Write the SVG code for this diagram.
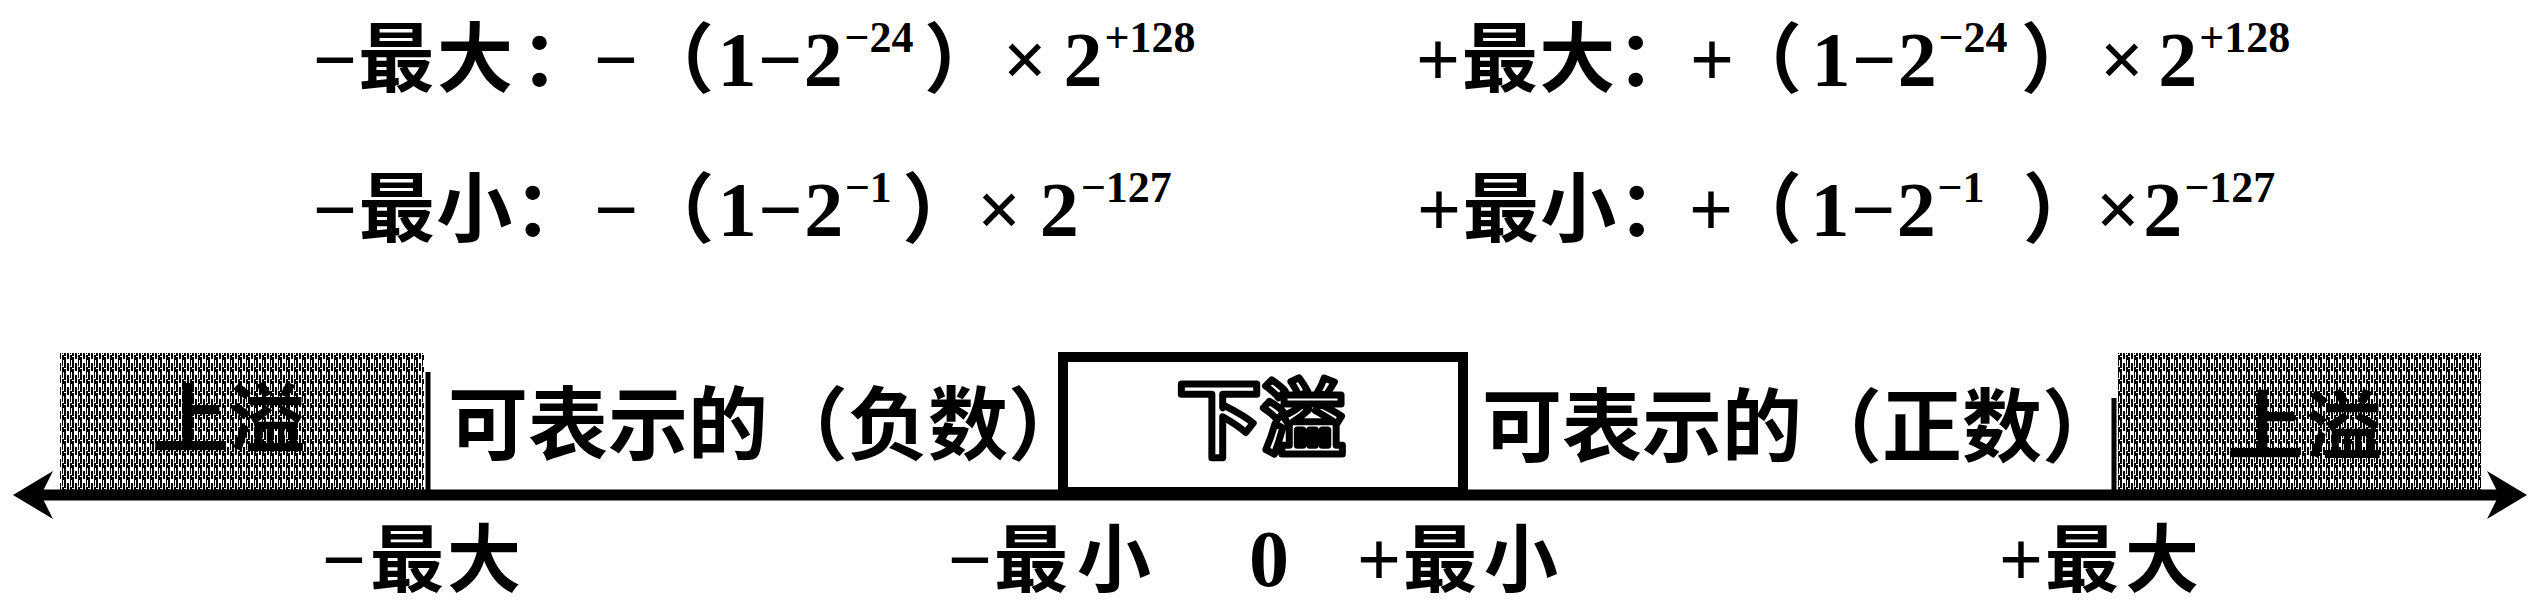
<svg xmlns="http://www.w3.org/2000/svg" width="2538" height="612" viewBox="0 0 2538 612">
<style>
.cjk{font-family:"Noto Sans CJK SC","Noto Sans CJK TC",sans-serif;font-weight:700;fill:#000}
.lat{font-family:"Liberation Serif","Times New Roman",serif;font-weight:700;fill:#000}
.pn{font-feature-settings:"halt" 1}
.f76{font-size:76px}
.f74{font-size:74px}
.f80{font-size:80px}
.l78{font-size:78px}
.sup{font-size:44px}
.mid{text-anchor:middle}
.hatchbox{fill:url(#hatch)}
.tick{stroke:#000;stroke-width:5;fill:none}
.axis{stroke:#000;stroke-width:11;fill:none;marker-start:url(#arr);marker-end:url(#arr)}
.hollow{fill:#fff;stroke:#000;stroke-width:7;stroke-linejoin:round}
</style>
<defs>
<pattern id="hatch" width="8" height="12" patternUnits="userSpaceOnUse">
<rect width="8" height="12" fill="#fff"/>
<rect x="0" y="0" width="2" height="8" fill="#000"/>
<rect x="3" y="3" width="2" height="8" fill="#000"/>
<rect x="6" y="0" width="1" height="6" fill="#000"/>
<rect x="6" y="7" width="2" height="5" fill="#000"/>
<rect x="0" y="9" width="2" height="3" fill="#000"/>
</pattern>
<marker id="arr" markerUnits="userSpaceOnUse" viewBox="0 0 40 48" markerWidth="40" markerHeight="48" refX="12" refY="24" orient="auto-start-reverse">
<path d="M0,0 L40,24 L0,48 L12,24 Z" fill="#000"/>
</marker>
</defs>
<rect width="2538" height="612" fill="#fff"/>

<g id="formulas">
<g id="neg-max">
<text x="312.8" y="86"><tspan class="lat l78">−</tspan><tspan class="cjk f76" dx="1">最</tspan><tspan class="cjk f76" dx="2.7">大</tspan><tspan class="cjk f76 pn" dx="7.5">：</tspan><tspan class="lat l78" dx="35.3">−</tspan><tspan class="cjk f76 pn" dx="37.7">（</tspan><tspan class="lat l78" dx="3.5">1</tspan><tspan class="lat l78" dx="1.5">−</tspan><tspan class="lat l78" dx="1.5">2</tspan><tspan class="lat sup" dx="1.5" dy="-34">−24</tspan><tspan class="cjk f76 pn" dx="10.5" dy="34">）</tspan><tspan class="lat l78" dx="40.7">×</tspan><tspan class="lat l78" dx="16.3">2</tspan><tspan class="lat sup" dx="2" dy="-34">+128</tspan></text>
</g>
<g id="neg-min">
<text x="312.8" y="236"><tspan class="lat l78">−</tspan><tspan class="cjk f76" dx="1.5">最</tspan><tspan class="cjk f76" dx="1.5">小</tspan><tspan class="cjk f76 pn" dx="1.5">：</tspan><tspan class="lat l78" dx="42.3">−</tspan><tspan class="cjk f76 pn" dx="37.7">（</tspan><tspan class="lat l78" dx="3.5">1</tspan><tspan class="lat l78" dx="1.5">−</tspan><tspan class="lat l78" dx="1.5">2</tspan><tspan class="lat sup" dx="1.5" dy="-34">−1</tspan><tspan class="cjk f76 pn" dx="10.5" dy="34">）</tspan><tspan class="lat l78" dx="36.7">×</tspan><tspan class="lat l78" dx="18.3">2</tspan><tspan class="lat sup" dx="2" dy="-34">−127</tspan></text>
</g>
<g id="pos-max">
<text x="1415.8" y="86"><tspan class="lat l78">+</tspan><tspan class="cjk f76" dx="1.5">最</tspan><tspan class="cjk f76" dx="1.5">大</tspan><tspan class="cjk f76 pn" dx="1.5">：</tspan><tspan class="lat l78" dx="35">+</tspan><tspan class="cjk f76 pn" dx="29.7">（</tspan><tspan class="lat l78" dx="9.5">1</tspan><tspan class="lat l78" dx="1.5">−</tspan><tspan class="lat l78" dx="1.5">2</tspan><tspan class="lat sup" dx="1.5" dy="-34">−24</tspan><tspan class="cjk f76 pn" dx="13.4" dy="34">）</tspan><tspan class="lat l78" dx="40.8">×</tspan><tspan class="lat l78" dx="14.2">2</tspan><tspan class="lat sup" dx="2" dy="-34">+128</tspan></text>
</g>
<g id="pos-min">
<text x="1416.8" y="236"><tspan class="lat l78">+</tspan><tspan class="cjk f76" dx="1.5">最</tspan><tspan class="cjk f76" dx="1.5">小</tspan><tspan class="cjk f76 pn" dx="1.5">：</tspan><tspan class="lat l78" dx="33">+</tspan><tspan class="cjk f76 pn" dx="30.7">（</tspan><tspan class="lat l78" dx="8.5">1</tspan><tspan class="lat l78" dx="1.5">−</tspan><tspan class="lat l78" dx="1.5">2</tspan><tspan class="lat sup" dx="1.5" dy="-34">−1</tspan><tspan class="cjk f76 pn" dx="38.4" dy="34">）</tspan><tspan class="lat l78" dx="34.8">×</tspan><tspan class="lat l78" dx="3.2">2</tspan><tspan class="lat sup" dx="2" dy="-34">−127</tspan></text>
</g>
</g>

<g id="overflow-neg">
<rect class="hatchbox" x="60" y="353" width="364" height="137"/>
<text class="cjk f76 mid" y="447"><tspan x="190">上</tspan><tspan x="267">溢</tspan></text>
</g>
<g id="representable-neg">
<line class="tick" x1="428" y1="372" x2="428" y2="492"/>
<text class="cjk f80" x="448" y="453">可表示的（负数）</text>
</g>
<g id="underflow">
<rect x="1063" y="357" width="400" height="135" fill="#fff" stroke="#000" stroke-width="10"/>
<text class="cjk hollow mid" style="font-size:84px" y="450"><tspan x="1219">下</tspan><tspan x="1303">溢</tspan></text>
</g>
<g id="representable-pos">
<text class="cjk f80" x="1482" y="455">可表示的（正数）</text>
<line class="tick" x1="2114" y1="398" x2="2114" y2="492"/>
</g>
<g id="overflow-pos">
<rect class="hatchbox" x="2118" y="353" width="363" height="137"/>
<text class="cjk f76 mid" y="454"><tspan x="2265">上</tspan><tspan x="2344">溢</tspan></text>
</g>

<g id="connectors">
<line class="axis" x1="41" y1="495" x2="2499" y2="495"/>
</g>

<g id="axis-labels">
<text class="mid" y="586"><tspan class="lat l78" x="344">−</tspan><tspan class="cjk f74" x="407">最</tspan><tspan class="cjk f74" x="484">大</tspan></text>
<text class="mid" y="586"><tspan class="lat l78" x="970">−</tspan><tspan class="cjk f74" x="1031">最</tspan><tspan class="cjk f74" x="1114">小</tspan></text>
<text class="lat mid" style="font-size:80px" x="1269" y="586">0</text>
<text class="mid" y="586"><tspan class="lat l78" x="1379">+</tspan><tspan class="cjk f74" x="1440">最</tspan><tspan class="cjk f74" x="1521">小</tspan></text>
<text class="mid" y="586"><tspan class="lat l78" x="2021">+</tspan><tspan class="cjk f74" x="2082">最</tspan><tspan class="cjk f74" x="2162">大</tspan></text>
</g>
</svg>
